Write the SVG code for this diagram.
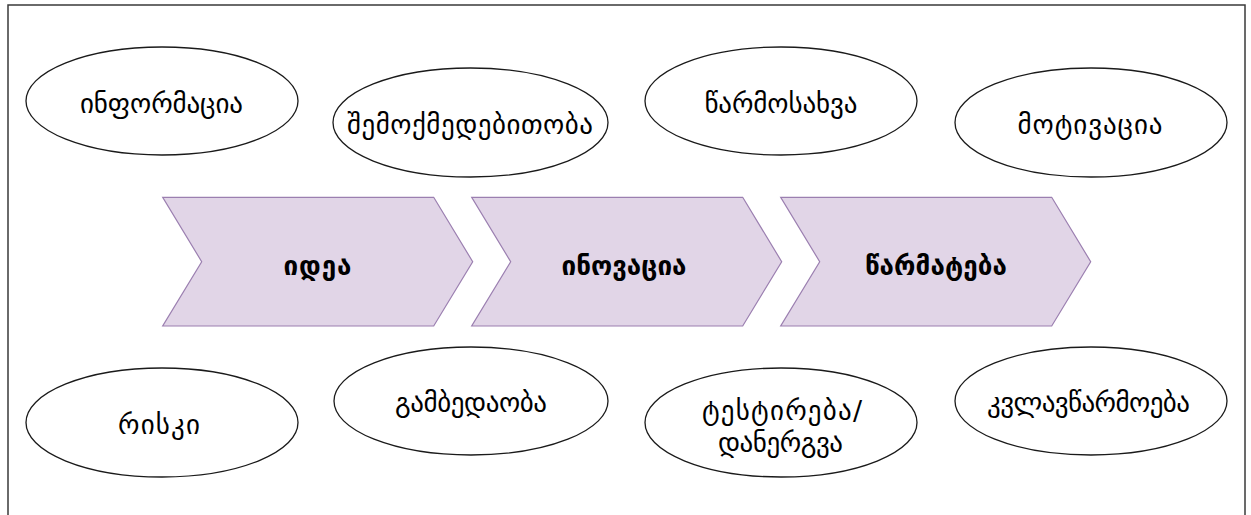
<svg xmlns="http://www.w3.org/2000/svg" width="1251" height="515" viewBox="0 0 1251 515">
<style>
.frame{fill:#ffffff;stroke:#3a3a3a;stroke-width:1.5}
.oval{fill:#ffffff;stroke:#1a1a1a;stroke-width:1.3}
.chev{fill:#e1d5e7;stroke:#9b7fb0;stroke-width:1.2}
.t{font-family:"DejaVu Sans",sans-serif;font-size:27px;fill:#000;text-anchor:middle}
.b{font-family:"DejaVu Sans",sans-serif;font-size:26px;font-weight:bold;fill:#000;text-anchor:middle}
</style>
<rect class="frame" x="8" y="5" width="1237" height="530"/>
<g id="connectors"></g>
<g id="n-idea"><path class="chev" d="M162.7,197.3 L433.7,197.3 L472.7,261.7 L433.7,326 L162.7,326 L201.7,261.7 Z"/><text class="b" x="317.5" y="275" textLength="68">იდეა</text></g>
<g id="n-innovacia"><path class="chev" d="M471.7,197.3 L742.7,197.3 L781.7,261.7 L742.7,326 L471.7,326 L510.7,261.7 Z"/><text class="b" x="624" y="275" textLength="125">ინოვაცია</text></g>
<g id="n-tsarmateba"><path class="chev" d="M780.7,197.3 L1051.7,197.3 L1090.7,261.7 L1051.7,326 L780.7,326 L819.7,261.7 Z"/><text class="b" x="936" y="275" textLength="142">წარმატება</text></g>
<g id="n-informacia"><ellipse class="oval" cx="162" cy="101" rx="136" ry="54"/><text class="t" x="161.5" y="113" textLength="163">ინფორმაცია</text></g>
<g id="n-shemokmedebitoba"><ellipse class="oval" cx="470.5" cy="122.5" rx="137.5" ry="54.5"/><text class="t" x="470" y="134" textLength="246">შემოქმედებითობა</text></g>
<g id="n-tsarmosakhva"><ellipse class="oval" cx="781" cy="101" rx="136" ry="54"/><text class="t" x="781" y="113" textLength="153">წარმოსახვა</text></g>
<g id="n-motivacia"><ellipse class="oval" cx="1091" cy="122.5" rx="136" ry="54.5"/><text class="t" x="1090" y="134" textLength="145">მოტივაცია</text></g>
<g id="n-riski"><ellipse class="oval" cx="162" cy="422.5" rx="136" ry="54.5"/><text class="t" x="159" y="434" textLength="82">რისკი</text></g>
<g id="n-gambedaoba"><ellipse class="oval" cx="471" cy="401" rx="137" ry="54"/><text class="t" x="471" y="412" textLength="152">გამბედაობა</text></g>
<g id="n-testireba"><ellipse class="oval" cx="781" cy="422.5" rx="136" ry="54.5"/><text class="t" x="782" y="420" textLength="160">ტესტირება/</text><text class="t" x="780.5" y="452" textLength="125">დანერგვა</text></g>
<g id="n-kvlavtsarmoeba"><ellipse class="oval" cx="1091" cy="401" rx="136" ry="54"/><text class="t" x="1088.5" y="412" textLength="203">კვლავწარმოება</text></g>
</svg>
